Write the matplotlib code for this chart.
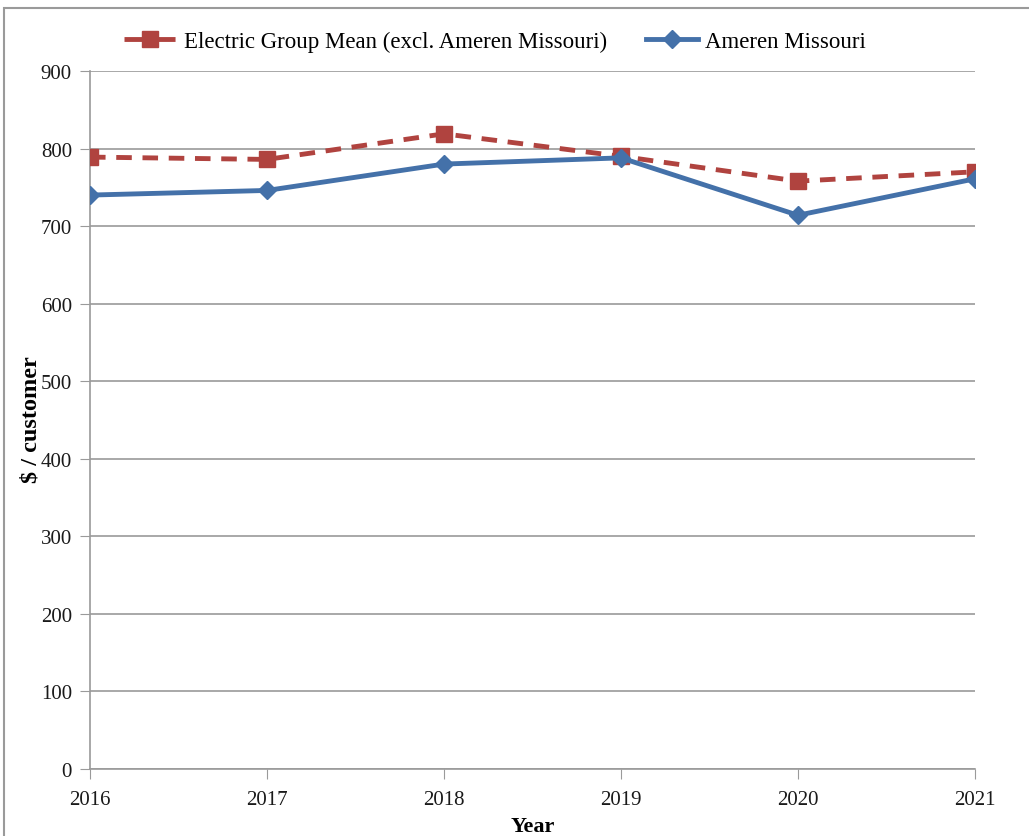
import matplotlib
matplotlib.use("Agg")
import matplotlib.pyplot as plt
from matplotlib.patches import Rectangle

years = [2016, 2017, 2018, 2019, 2020, 2021]
group_mean = [789, 786, 819, 790, 758, 770]
ameren = [740, 746, 780, 788, 714, 761]
yticks = [0, 100, 200, 300, 400, 500, 600, 700, 800, 900]

plt.rcParams['font.family'] = ['Liberation Serif', 'DejaVu Serif']

fig = plt.figure(figsize=(10.29, 8.37), dpi=100)
ax = fig.add_axes([90/1029, 1-770/837, (975-90)/1029, (770-72)/837])

red = '#B0433F'
blue = '#4471A9'
ax.plot(years, group_mean, color=red, lw=3.5, ls=(0, (3.2, 2.2)), marker='s', ms=12,
        label='Electric Group Mean (excl. Ameren Missouri)', zorder=3)
ax.plot(years, ameren, color=blue, lw=3.5, marker='D', ms=9,
        label='Ameren Missouri', zorder=4)

ax.set_xlim(2016, 2021)
ax.set_ylim(0, 900)
ax.set_yticks(yticks)
ax.set_xticks(years)
ax.grid(axis='y', color='#9A9A9A', lw=1.2)
ax.set_axisbelow(True)
for s in ['top', 'right']:
    ax.spines[s].set_visible(False)
for s in ['left', 'bottom']:
    ax.spines[s].set_color('#9A9A9A')
    ax.spines[s].set_linewidth(1.2)
ax.tick_params(axis='y', length=7, color='#9A9A9A', labelsize=15, pad=6)
ax.tick_params(axis='x', length=7, color='#9A9A9A', labelsize=15, pad=8)
for lab in ax.get_xticklabels() + ax.get_yticklabels():
    lab.set_color('#1a1a1a')

ax.set_xlabel('Year', fontsize=16, fontweight='bold', labelpad=5)
ax.set_ylabel('$ / customer', fontsize=17.5, fontweight='bold')
ax.yaxis.set_label_coords((42 - 90) / 885, (770 - 420) / 698)

leg = ax.legend(loc='center', bbox_to_anchor=(495/1029, 1-42/837), bbox_transform=fig.transFigure,
                ncol=2, frameon=False, fontsize=16.5, handlelength=2.3, handletextpad=0.3,
                columnspacing=1.7)
leg.get_lines()[0].set_linestyle((0, (4.5, 1.5)))

fig.patches.append(Rectangle((4/1029, -0.1), 1.2, 1-9/837+0.1, transform=fig.transFigure,
                             fill=False, edgecolor='#9A9A9A', lw=1.5))

fig.savefig('out.png', dpi=100)
